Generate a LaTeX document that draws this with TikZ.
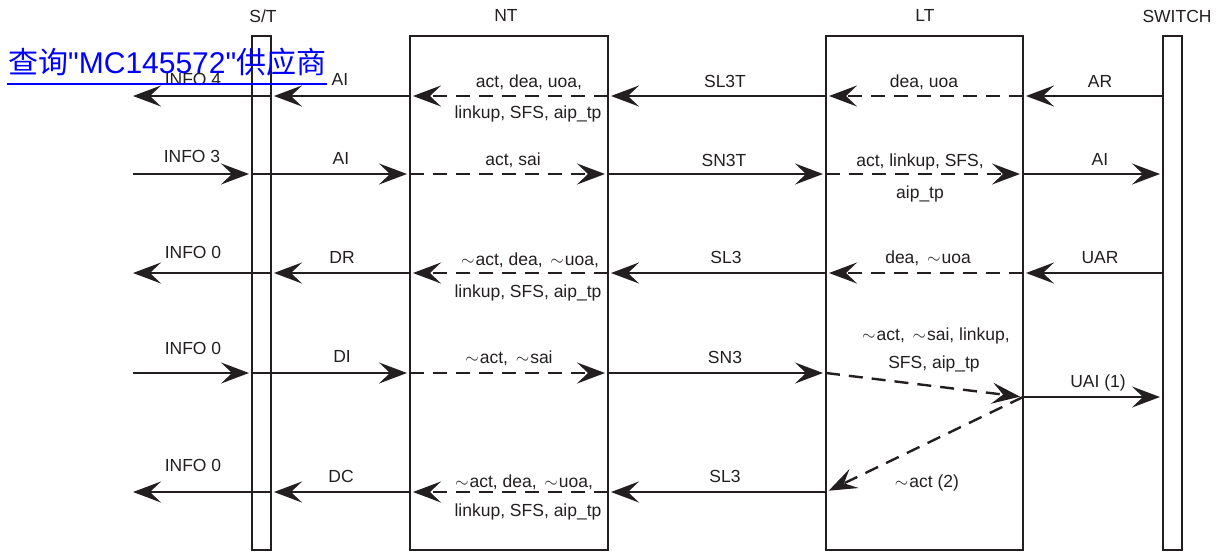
\documentclass[tikz,border=0pt]{standalone}
\usepackage{fontspec}
\setmainfont{Liberation Sans}
\newfontfamily\cjk{Noto Sans CJK SC}
\newfontfamily\linkfont{Liberation Sans}[Ligatures=TeXOff]
\usetikzlibrary{arrows.meta}
\definecolor{ink}{RGB}{35,31,32}
\newcommand{\tl}{$\sim$\kern1pt}
\begin{document}
\begin{tikzpicture}[x=1pt,y=-1pt,
  box/.style={draw=ink, line width=2.4pt, inner sep=0pt, outer sep=0pt, minimum height=514pt},
  msg/.style={draw=ink, line width=2.4pt, -{Stealth[length=28pt,width=21pt,inset=11pt]}},
  tobox/.style={shorten >=3pt},
  dsh/.style={dash pattern=on 14pt off 9pt},
  lab/.style={anchor=base, inner sep=0pt, text=ink, font=\fontsize{17.5}{20}\selectfont}]
\useasboundingbox (0,0) rectangle (1217,552);
% boxes
\node[box, minimum width=19pt]  (ST) at (261.5,293) {};
\node[box, minimum width=198pt] (NT) at (509,293) {};
\node[box, minimum width=197pt] (LT) at (924.5,293) {};
\node[box, minimum width=19pt]  (SW) at (1172.5,293) {};
% headers
\node[lab] (hST) at (263,22) {S/T};
\node[lab] (hNT) at (506,21) {NT};
\node[lab] (hLT) at (925,21) {LT};
\node[lab] (hSW) at (1177,22) {SWITCH};
% rows
\coordinate (r1) at (0,96);
\coordinate (r2) at (0,174);
\coordinate (r3) at (0,273);
\coordinate (r4) at (0,373);
\coordinate (r5) at (0,492);
\coordinate (yj) at (0,397);
\coordinate (j) at (LT.east |- yj);
\coordinate (L1) at (133,96);
\coordinate (L2) at (133,174);
\coordinate (L3) at (133,273);
\coordinate (L4) at (133,373);
\coordinate (L5) at (133,492);
% row 1
\draw[msg] (ST.east|-r1) -- (L1);
\draw[msg,tobox] (NT.west|-r1) -- (ST.east|-r1);
\draw[msg,dsh,tobox] (NT.east|-r1) -- (NT.west|-r1);
\draw[msg,tobox] (LT.west|-r1) -- (NT.east|-r1);
\draw[msg,dsh,tobox] (LT.east|-r1) -- (LT.west|-r1);
\draw[msg,tobox] (SW.west|-r1) -- (LT.east|-r1);
% row 2
\draw[msg,tobox] (L2) -- (ST.west|-r2);
\draw[msg,tobox] (ST.west|-r2) -- (NT.west|-r2);
\draw[msg,dsh,tobox] (NT.west|-r2) -- (NT.east|-r2);
\draw[msg,tobox] (NT.east|-r2) -- (LT.west|-r2);
\draw[msg,dsh,tobox] (LT.west|-r2) -- (LT.east|-r2);
\draw[msg,tobox] (LT.east|-r2) -- (SW.west|-r2);
% row 3
\draw[msg] (ST.east|-r3) -- (L3);
\draw[msg,tobox] (NT.west|-r3) -- (ST.east|-r3);
\draw[msg,dsh,tobox] (NT.east|-r3) -- (NT.west|-r3);
\draw[msg,tobox] (LT.west|-r3) -- (NT.east|-r3);
\draw[msg,dsh,tobox] (LT.east|-r3) -- (LT.west|-r3);
\draw[msg,tobox] (SW.west|-r3) -- (LT.east|-r3);
% row 4
\draw[msg,tobox] (L4) -- (ST.west|-r4);
\draw[msg,tobox] (ST.west|-r4) -- (NT.west|-r4);
\draw[msg,dsh,tobox] (NT.west|-r4) -- (NT.east|-r4);
\draw[msg,tobox] (NT.east|-r4) -- (LT.west|-r4);
\draw[msg,dsh,tobox] (LT.west|-r4) -- (j);
\draw[msg,tobox] (j) -- (SW.west|-j);
% row 5
\draw[msg] (ST.east|-r5) -- (L5);
\draw[msg,tobox] (NT.west|-r5) -- (ST.east|-r5);
\draw[msg,dsh,tobox] (NT.east|-r5) -- (NT.west|-r5);
\draw[msg,tobox] (LT.west|-r5) -- (NT.east|-r5);
\draw[msg,dsh,tobox] (j) -- (LT.west|-r5);
% labels row 1
\node[lab] (a1) at (193,85) {INFO 4};
\node[lab] (a2) at (340,85) {AI};
\node[lab] (a3) at (529,87) {act, dea, uoa,};
\node[lab] (a4) at (528,118) {linkup, SFS, aip\_tp};
\node[lab] (a5) at (725,87) {SL3T};
\node[lab] (a6) at (924,87) {dea, uoa};
\node[lab] (a7) at (1100,87) {AR};
% labels row 2
\node[lab] (b1) at (192,162) {INFO 3};
\node[lab] (b2) at (341,164) {AI};
\node[lab] (b3) at (513,165) {act, sai};
\node[lab] (b4) at (724,166) {SN3T};
\node[lab] (b5) at (920,166) {act, linkup, SFS,};
\node[lab] (b6) at (920,198) {aip\_tp};
\node[lab] (b7) at (1100,165) {AI};
% labels row 3
\node[lab] (c1) at (193,258) {INFO 0};
\node[lab] (c2) at (342,263) {DR};
\node[lab] (c3) at (530,265) {\tl act, dea, \,\tl uoa,};
\node[lab] (c4) at (528,297) {linkup, SFS, aip\_tp};
\node[lab] (c5) at (726,263) {SL3};
\node[lab] (c6) at (928,263) {dea, \,\tl uoa};
\node[lab] (c7) at (1100,263) {UAR};
% labels row 4
\node[lab] (d1) at (193,354) {INFO 0};
\node[lab] (d2) at (342,362) {DI};
\node[lab] (d3) at (509,363) {\tl act, \,\tl sai};
\node[lab] (d4) at (725,363) {SN3};
\node[lab] (d5) at (936,340) {\tl act, \,\tl sai, linkup,};
\node[lab] (d6) at (934,368) {SFS, aip\_tp};
\node[lab] (d7) at (1098,387) {UAI (1)};
% labels row 5
\node[lab] (e1) at (193,471) {INFO 0};
\node[lab] (e2) at (341,482) {DC};
\node[lab] (e3) at (524,487) {\tl act, dea, \,\tl uoa,};
\node[lab] (e4) at (528,516) {linkup, SFS, aip\_tp};
\node[lab] (e5) at (725,482) {SL3};
\node[lab] (e6) at (927,487) {\tl act (2)};
% link overlay
\node[anchor=base west, inner sep=0pt, text=blue, font=\fontsize{30}{30}\selectfont] (link) at (8,73) {{\cjk 查询}{\linkfont "MC145572"}{\cjk 供应商}};
\draw[blue, line width=2.2pt] ([shift={(-1pt,-11pt)}]link.base west) -- ([shift={(1pt,-11pt)}]link.base east);
\end{tikzpicture}
\end{document}
